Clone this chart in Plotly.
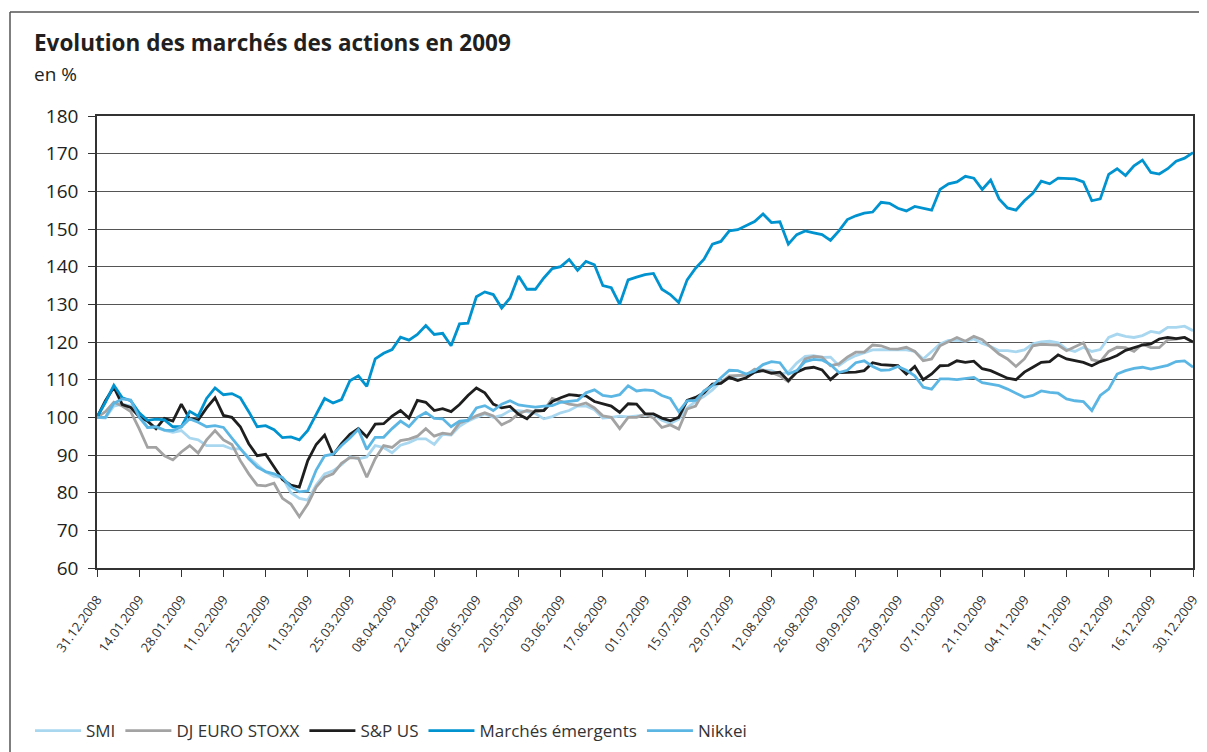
import plotly.graph_objects as go

# Trading-day index (every second trading day) and date tick labels
tick_labels = ["31.12.2008", "14.01.2009", "28.01.2009", "11.02.2009", "25.02.2009",
               "11.03.2009", "25.03.2009", "08.04.2009", "22.04.2009", "06.05.2009",
               "20.05.2009", "03.06.2009", "17.06.2009", "01.07.2009", "15.07.2009",
               "29.07.2009", "12.08.2009", "26.08.2009", "09.09.2009", "23.09.2009",
               "07.10.2009", "21.10.2009", "04.11.2009", "18.11.2009", "02.12.2009",
               "16.12.2009", "30.12.2009"]
tick_positions = list(range(0, 261, 10))
day_index = list(range(0, 261, 2))

smi = [100, 99.8, 103, 103.5, 103, 101.3, 97.3, 97.3, 96.5, 96, 96.5, 94.5, 94, 92.5, 92.5, 92.5,
       91.6, 91.6, 89.4, 87.5, 85.5, 84.3, 84, 80, 78.5, 78, 82, 85, 85.8, 87.4, 89.5, 89, 89.5,
       92.5, 92, 90.6, 92.6, 93.3, 94.3, 94.3, 92.8, 95.5, 95.3, 97.6, 99, 100, 100.9, 100, 100.5,
       101.8, 101.8, 101.5, 101, 99.6, 100.2, 101.2, 101.8, 103, 103, 102, 99.8, 100, 100.3, 100.1,
       100.4, 100.5,
       100.8, 99.2, 98.4, 99.5, 102.5, 104.2, 105.6, 107.3, 109.5, 110.5, 111, 111.2, 111.9, 112.5,
       112.4, 111.5, 111.9, 114.4, 116.2, 116.4, 115.9, 116, 113.7, 115.3, 116.4, 117.2, 117.9, 118,
       118, 118.1, 117.9, 117.5,
       115.5, 117.5, 119.5, 120.4, 120.5, 120.2, 120.8, 119.6, 118.8, 117.7, 117.7, 117.4, 117.9,
       119.5, 120, 120.2, 119.8, 118.1, 117.5, 118.6, 117.5, 118, 121.2, 122.1, 121.5, 121.2, 121.7,
       122.8, 122.4, 123.9, 123.9, 124.2, 123]

dj_euro_stoxx = [100, 101.5, 104, 103, 101.5, 97, 92, 92, 89.8, 88.7, 90.8, 92.5, 90.5, 94, 96.5, 94,
                 92.8, 88.5, 85, 82, 81.8, 82.5, 78.5, 77, 73.6, 77, 81.5, 84.1, 85, 87.8, 89.3, 89.2,
                 84.1,
                 89, 92.5, 92, 93.8, 94.2, 95, 97, 95, 95.8, 95.5, 98.5, 99.3, 100.4, 101.2, 100.4, 98,
                 99.1, 101, 101.8, 101.4, 101.8, 105, 104.2, 103.5, 103.2, 103.8, 102.5, 100.4, 100, 97,
                 100, 100, 100.8,
                 99.8, 97.3, 98, 96.9, 102.2, 103, 107, 108.6, 109.3, 111, 111, 111.2, 112.8, 112.5,
                 111.9, 111, 109.5, 112, 115.5, 116.2, 116, 113.7, 114.2, 116, 117.3, 117.3, 119.2, 119,
                 118.2, 118.1, 118.6, 117.5,
                 115, 115.5, 119, 120, 121.2, 120.2, 121.5, 120.6, 118.8, 116.8, 115.5, 113.5, 115.5,
                 119, 119.4, 119.2, 119.2, 117.7, 118.8, 119.8, 115.3, 114.8, 117.5, 118.6, 118.5, 117.5,
                 119.5, 118.5, 118.5, 120.6, 120.8, 121.2, 120]

sp_us = [100, 104.4, 108, 103.4, 102.6, 100.2, 99, 97, 99.7, 99, 103.5, 99.6, 99.3, 102.5, 105.2, 100.5,
         100, 97.5, 93, 89.8, 90.2, 86.7, 83.5, 82, 81.5, 88.5, 92.8, 95.3, 90, 93, 95.5, 97, 94.8,
         98.2, 98.3, 100.3, 101.8, 99.8, 104.5, 104, 101.8, 102.3, 101.5, 103.4, 105.8, 107.8, 106.5,
         103.5, 102.5, 102.9, 100.8, 99.6, 101.8, 101.8, 104.2, 105.2, 106, 105.8, 105.7, 104.2, 103.7,
         103, 101.3, 103.6, 103.5, 101,
         100.9, 99.8, 99.1, 100, 104.5, 105.3, 106.5, 108.8, 109, 110.6, 109.8, 110.5, 112, 112.4,
         111.7, 112, 109.7, 112, 113, 113.3, 112.6, 110, 111.9, 111.9, 112, 112.4, 114.5, 114, 113.8,
         113.7, 111.5, 113.5,
         110, 111.5, 113.7, 113.8, 115, 114.6, 114.9, 112.9, 112.4, 111.5, 110.4, 110, 112, 113.3,
         114.6, 114.8, 116.6, 115.5, 115, 114.6, 113.7, 114.8, 115.5, 116.4, 117.8, 118.6, 119.2,
         119.5, 120.8, 121.2, 120.9, 121.2, 120]

marches_emergents = [100, 104, 108.5, 105.2, 104.4, 101.2, 99.2, 99.5, 99.3, 97.5, 97.5, 101.6, 100.3,
                     105, 107.8, 106, 106.3, 105.2, 101.5, 97.5, 97.8, 96.7, 94.6, 94.8, 94, 96.5,
                     100.8, 105, 103.8, 104.7, 109.7, 111, 108.2,
                     115.5, 117, 118, 121.3, 120.5, 122, 124.4, 122, 122.3, 119, 124.8, 125, 132,
                     133.3, 132.6, 129, 131.7, 137.5, 134, 134, 137, 139.5, 140, 141.9, 139, 141.4,
                     140.5, 135, 134.4, 130, 136.5, 137.2, 137.9,
                     138.2, 134, 132.6, 130.5, 136.5, 139.6, 142, 146, 146.7, 149.5, 149.8, 151, 152,
                     154, 151.7, 151.9, 146, 148.5, 149.5, 149, 148.5, 147, 149.5, 152.5, 153.5,
                     154.2, 154.5, 157.1, 156.8, 155.5, 154.8, 156,
                     155.5, 155, 160.5, 162, 162.5, 164, 163.5, 160.5, 163, 158, 155.6, 155, 157.5,
                     159.5, 162.7, 162, 163.5, 163.5, 163.3, 162.5, 157.5, 158, 164.5, 166, 164.2,
                     166.8, 168.3, 165, 164.6, 166, 168, 168.8, 170.3]

nikkei = [100, 100, 103.7, 104.9, 104.6, 100, 97.3, 97.5, 96.6, 96.5, 97.5, 99.6, 98.7, 97.5, 97.8,
          97.3, 94.5, 91.8, 89, 86.8, 85.6, 85, 84, 81.5, 80.2, 80.5, 86, 89.8, 90.2, 92.5, 94.5,
          96.8, 91.5,
          94.7, 94.7, 97, 99, 97.5, 100, 101.3, 99.7, 99.6, 97.5, 99, 99.2, 102.5, 103.1, 101.8,
          103.5, 104.4, 103.3, 103, 102.7, 103, 103.1, 104, 104.3, 104.5, 106.5, 107.3, 105.8, 105.5,
          106, 108.4, 107, 107.3,
          107.1, 105.8, 105, 101.5, 104.4, 104.5, 107, 108.4, 110.5, 112.5, 112.4, 111.5, 112.3, 114,
          114.8, 114.5, 111.5, 112.4, 114.8, 115.4, 115.2, 114, 111.9, 112.5, 114.5, 115, 113.5,
          112.5, 112.6, 113.5, 112.5, 111,
          108, 107.5, 110.2, 110.2, 110, 110.2, 110.6, 109.2, 108.8, 108.4, 107.5, 106.5, 105.3,
          105.8, 107, 106.6, 106.4, 104.9, 104.4, 104.2, 101.8, 105.8, 107.5, 111.5, 112.4, 113,
          113.3, 112.8, 113.3, 113.8, 114.8, 115, 113.3]

series = [
    ("SMI", smi, "#a9d7f0"),
    ("DJ EURO STOXX", dj_euro_stoxx, "#a3a3a3"),
    ("S&P US", sp_us, "#1e1e1e"),
    ("Marchés émergents", marches_emergents, "#0093d0"),
    ("Nikkei", nikkei, "#5cb6e4"),
]

fig = go.Figure()
for name, vals, color in series:
    fig.add_trace(go.Scatter(x=day_index, y=vals, mode="lines", name=name,
                             line=dict(color=color, width=2.8)))

# The page body adds an 8 px margin; the figure is placed so the plot lands where the
# reference has it (page pixels below).
OFF = 8
W, H = 1207 - OFF, 752 - OFF
PL, PT, PR, PB = 97, 116, 1193, 568          # plot area in page pixels
L, T = PL - OFF, PT - OFF
pw, ph = PR - PL, PB - PT
R, B = W - L - pw, H - T - ph

def px_x(px):
    return (px - PL) / pw

def px_y(py):
    return (PB - py) / ph

def cx(px):
    return (px - OFF) / W

def cy(py):
    return 1 - (py - OFF) / H

fig.update_layout(
    width=W, height=H,
    margin=dict(l=L, r=R, t=T, b=B, autoexpand=False),
    paper_bgcolor="white", plot_bgcolor="white",
    font=dict(family="Open Sans, Noto Sans, sans-serif", color="#333333"),
    title=dict(text="<b>Evolution des marchés des actions en 2009</b>",
               x=cx(34), xanchor="left", y=cy(43), yanchor="middle",
               font=dict(size=22.5, color="#231f20")),
    showlegend=True,
    legend=dict(orientation="h", xref="container", yref="container",
                x=cx(30), xanchor="left", y=cy(731), yanchor="middle",
                font=dict(size=17, color="#333333"), bgcolor="rgba(0,0,0,0)",
                itemwidth=46, tracegroupgap=0),
    annotations=[dict(text="en %", xref="paper", yref="paper", x=px_x(32), y=px_y(74),
                      xanchor="left", yanchor="middle", showarrow=False,
                      font=dict(size=19, color="#231f20"))],
    shapes=[
        dict(type="line", xref="paper", yref="paper", x0=px_x(10), x1=px_x(10),
             y0=px_y(12), y1=px_y(770), line=dict(color="#555555", width=1.5)),
        dict(type="line", xref="paper", yref="paper", x0=px_x(10), x1=px_x(1230),
             y0=px_y(12), y1=px_y(12), line=dict(color="#555555", width=1.5)),
    ],
)

fig.update_xaxes(range=[0, 260], tickmode="array", tickvals=tick_positions, ticktext=tick_labels,
                 tickangle=-54, ticks="outside", ticklen=7, tickcolor="#333333",
                 ticklabelstandoff=10, ticklabeloverflow="allow", automargin=False,
                 showline=True, linecolor="#333333", linewidth=1.5, mirror=True,
                 showgrid=False, zeroline=False,
                 tickfont=dict(size=13, color="#333333"))
fig.update_yaxes(range=[60, 180], dtick=10, ticks="outside", ticklen=7, tickcolor="#333333",
                 ticklabelstandoff=6, automargin=False,
                 showline=True, linecolor="#333333", linewidth=1.5, mirror=True,
                 showgrid=True, gridcolor="#555555", gridwidth=1, zeroline=False,
                 tickfont=dict(size=19, color="#231f20"))

fig.write_html("out.html")
